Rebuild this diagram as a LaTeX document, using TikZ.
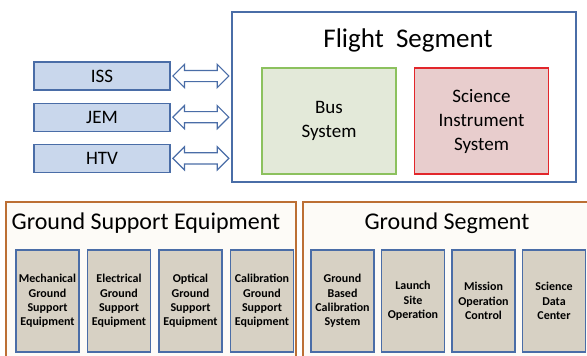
\documentclass[tikz,border=0pt]{standalone}
\usepackage{fontspec}
\setmainfont{Carlito}
\usepackage{tikz}
\usetikzlibrary{positioning, shapes.arrows}

\definecolor{frameblue}{HTML}{4A6DA7}
\definecolor{ifacefill}{HTML}{C9D7EC}
\definecolor{busgreen}{HTML}{8CC15E}
\definecolor{busfill}{HTML}{E3E9D9}
\definecolor{scired}{HTML}{E2262B}
\definecolor{scifill}{HTML}{E8CDCD}
\definecolor{unitfill}{HTML}{D7D1C4}
\definecolor{segorange}{HTML}{BC6F34}
\definecolor{segfill}{HTML}{FDFBF7}

\begin{document}
\begin{tikzpicture}[
  x=1pt, y=-1pt,
  node distance=7pt,
  segment/.style={draw, line width=1.8pt, inner sep=0pt},
  iface/.style={
    draw=frameblue, fill=ifacefill, line width=1.2pt,
    minimum width=136pt, minimum height=28pt,
    font=\fontsize{19}{22}\selectfont
  },
  subsys/.style={
    line width=1.5pt, minimum width=134pt, minimum height=106pt,
    align=center, font=\fontsize{19}{24}\selectfont
  },
  unit/.style={
    draw=frameblue, fill=unitfill, line width=1.5pt,
    minimum width=63pt, minimum height=102pt, inner sep=1pt,
    align=center, font=\fontsize{12}{14.4}\selectfont\bfseries
  },
  title/.style={font=\fontsize{24}{28}\selectfont},
  dblarrow/.style={
    double arrow, draw=frameblue, fill=white, line width=1.2pt,
    minimum height=56pt, minimum width=0pt, inner sep=0pt,
    double arrow head extend=6pt
  }
]
\useasboundingbox (0,0) rectangle (587,356);
\clip (0,0) rectangle (587,356);

% Flight segment
\node[segment, draw=frameblue, fill=white, minimum width=344pt, minimum height=170pt] (flight) at (404,97) {};
\node[title, font=\fontsize{27}{30}\selectfont] (flighttitle) at (408,40) {Flight\ \ Segment};
\node[subsys, draw=busgreen, fill=busfill] (bus) at (329,121) {Bus\\System};
\node[subsys, draw=scired, fill=scifill, right=17pt of bus] (sci) {Science\\Instrument\\System};

% Interfaces
\node[iface] (iss) at (102,76) {ISS};
\node[iface, below=12pt of iss] (jem) {JEM};
\node[iface, below=12pt of jem] (htv) {HTV};

% Arrows
\foreach \n in {iss,jem,htv}
  \path (\n.east) -- (\n.east -| flight.west) node[midway, dblarrow] {\rule{0pt}{10pt}};

% Ground support equipment
\node[segment, draw=segorange, fill=segfill, minimum width=290pt, minimum height=162pt] (gse) at (151,283) {};
\node[title] (gsetitle) at (146,223) {Ground Support Equipment};
\node[unit] (mech) at (47.5,301) {Mechanical\\Ground\\Support\\Equipment};
\node[unit, right=of mech] (elec) {Electrical\\Ground\\Support\\Equipment};
\node[unit, right=of elec] (opt) {Optical\\Ground\\Support\\Equipment};
\node[unit, right=of opt] (calib) {Calibration\\Ground\\Support\\Equipment};

% Ground segment
\node[segment, draw=segorange, fill=segfill, minimum width=290pt, minimum height=162pt] (gs) at (448,283) {};
\node[title] (gstitle) at (447,223) {Ground Segment};
\node[unit] (gbcs) at (342.5,301) {Ground\\Based\\Calibration\\System};
\node[unit, right=6pt of gbcs] (launch) {Launch\\Site\\Operation};
\node[unit, right=6pt of launch] (moc) {Mission\\Operation\\Control};
\node[unit, right=6pt of moc] (sdc) {Science\\Data\\Center};

\end{tikzpicture}
\end{document}
